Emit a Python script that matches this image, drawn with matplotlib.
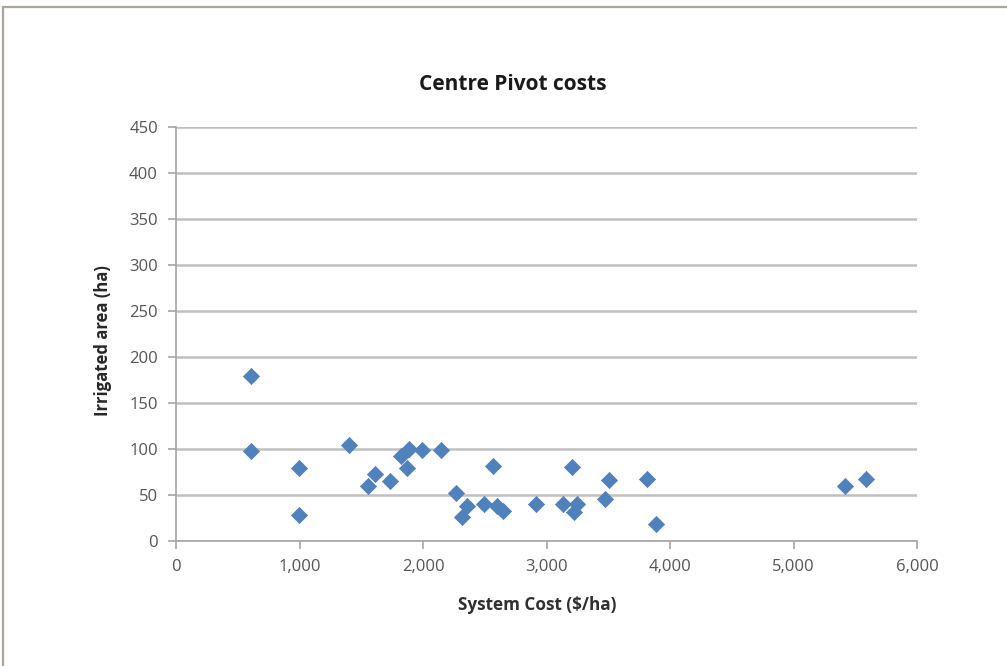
import matplotlib.pyplot as plt
from matplotlib.patches import Rectangle

# System cost ($/ha) vs irrigated area (ha)
system_cost = [607, 607, 996, 996, 1401, 1555, 1611, 1733, 1822, 1870, 1887,
               1992, 2146, 2267, 2356, 2316, 2494, 2567, 2599, 2648, 2915,
               3134, 3207, 3247, 3224, 3474, 3506, 3814, 3886, 5417, 5587]
irrigated_area = [179, 98, 79, 28, 104, 60, 73, 65, 92, 79, 100,
                  99, 99, 52, 38, 26, 40, 81, 38, 33, 40,
                  40, 80, 40, 32, 46, 66, 67, 19, 60, 67]

x_ticks = [0, 1000, 2000, 3000, 4000, 5000, 6000]
y_ticks = [0, 50, 100, 150, 200, 250, 300, 350, 400, 450]

plt.rcParams['font.family'] = ['Open Sans', 'DejaVu Sans']

W, H = 1007, 666
fig = plt.figure(figsize=(W / 100, H / 100), dpi=100)

# outer frame of the chart area (clipped at right/bottom like the screenshot)
fig.patches.append(Rectangle((3 / W, -0.1), 1.2, (H - 7) / H + 0.1,
                             transform=fig.transFigure, fill=False,
                             edgecolor='#aca59b', lw=1.6))

ax = fig.add_axes([176 / W, 125 / H, 741 / W, 414 / H])
ax.scatter(system_cost, irrigated_area, marker='D', s=68, color='#4f81bd',
           edgecolors='#4f81bd', linewidths=0.5, zorder=3)

ax.set_xlim(0, 6000)
ax.set_ylim(0, 450)
ax.set_xticks(x_ticks, labels=[f"{v:,}" for v in x_ticks])
ax.set_yticks(y_ticks)

ax.grid(axis='y', color='#c0c0c0', lw=1.8)
ax.set_axisbelow(True)
for side in ['top', 'right']:
    ax.spines[side].set_visible(False)
for side in ['left', 'bottom']:
    ax.spines[side].set_color('#a6a6a6')
    ax.spines[side].set_linewidth(1.2)
ax.tick_params(axis='both', colors='#a6a6a6', length=6, width=1.2,
               labelcolor='#555555', labelsize=12)
ax.tick_params(axis='x', pad=7)
ax.tick_params(axis='y', pad=7)

# Excel centres title / axis titles on the chart area, not the plot area
fig.text(513 / W, 1 - 85 / H, 'Centre Pivot costs', fontsize=15,
         fontweight='bold', color='#1a1a1a', ha='center', va='center')
fig.text(537 / W, 1 - 605 / H, 'System Cost ($/ha)', fontsize=12.3,
         fontweight='bold', color='#303030', ha='center', va='center')
fig.text(103 / W, 1 - 341 / H, 'Irrigated area (ha)', fontsize=12,
         fontweight='bold', color='#262626', ha='center', va='center',
         rotation=90)

fig.savefig('out.png', dpi=100)
